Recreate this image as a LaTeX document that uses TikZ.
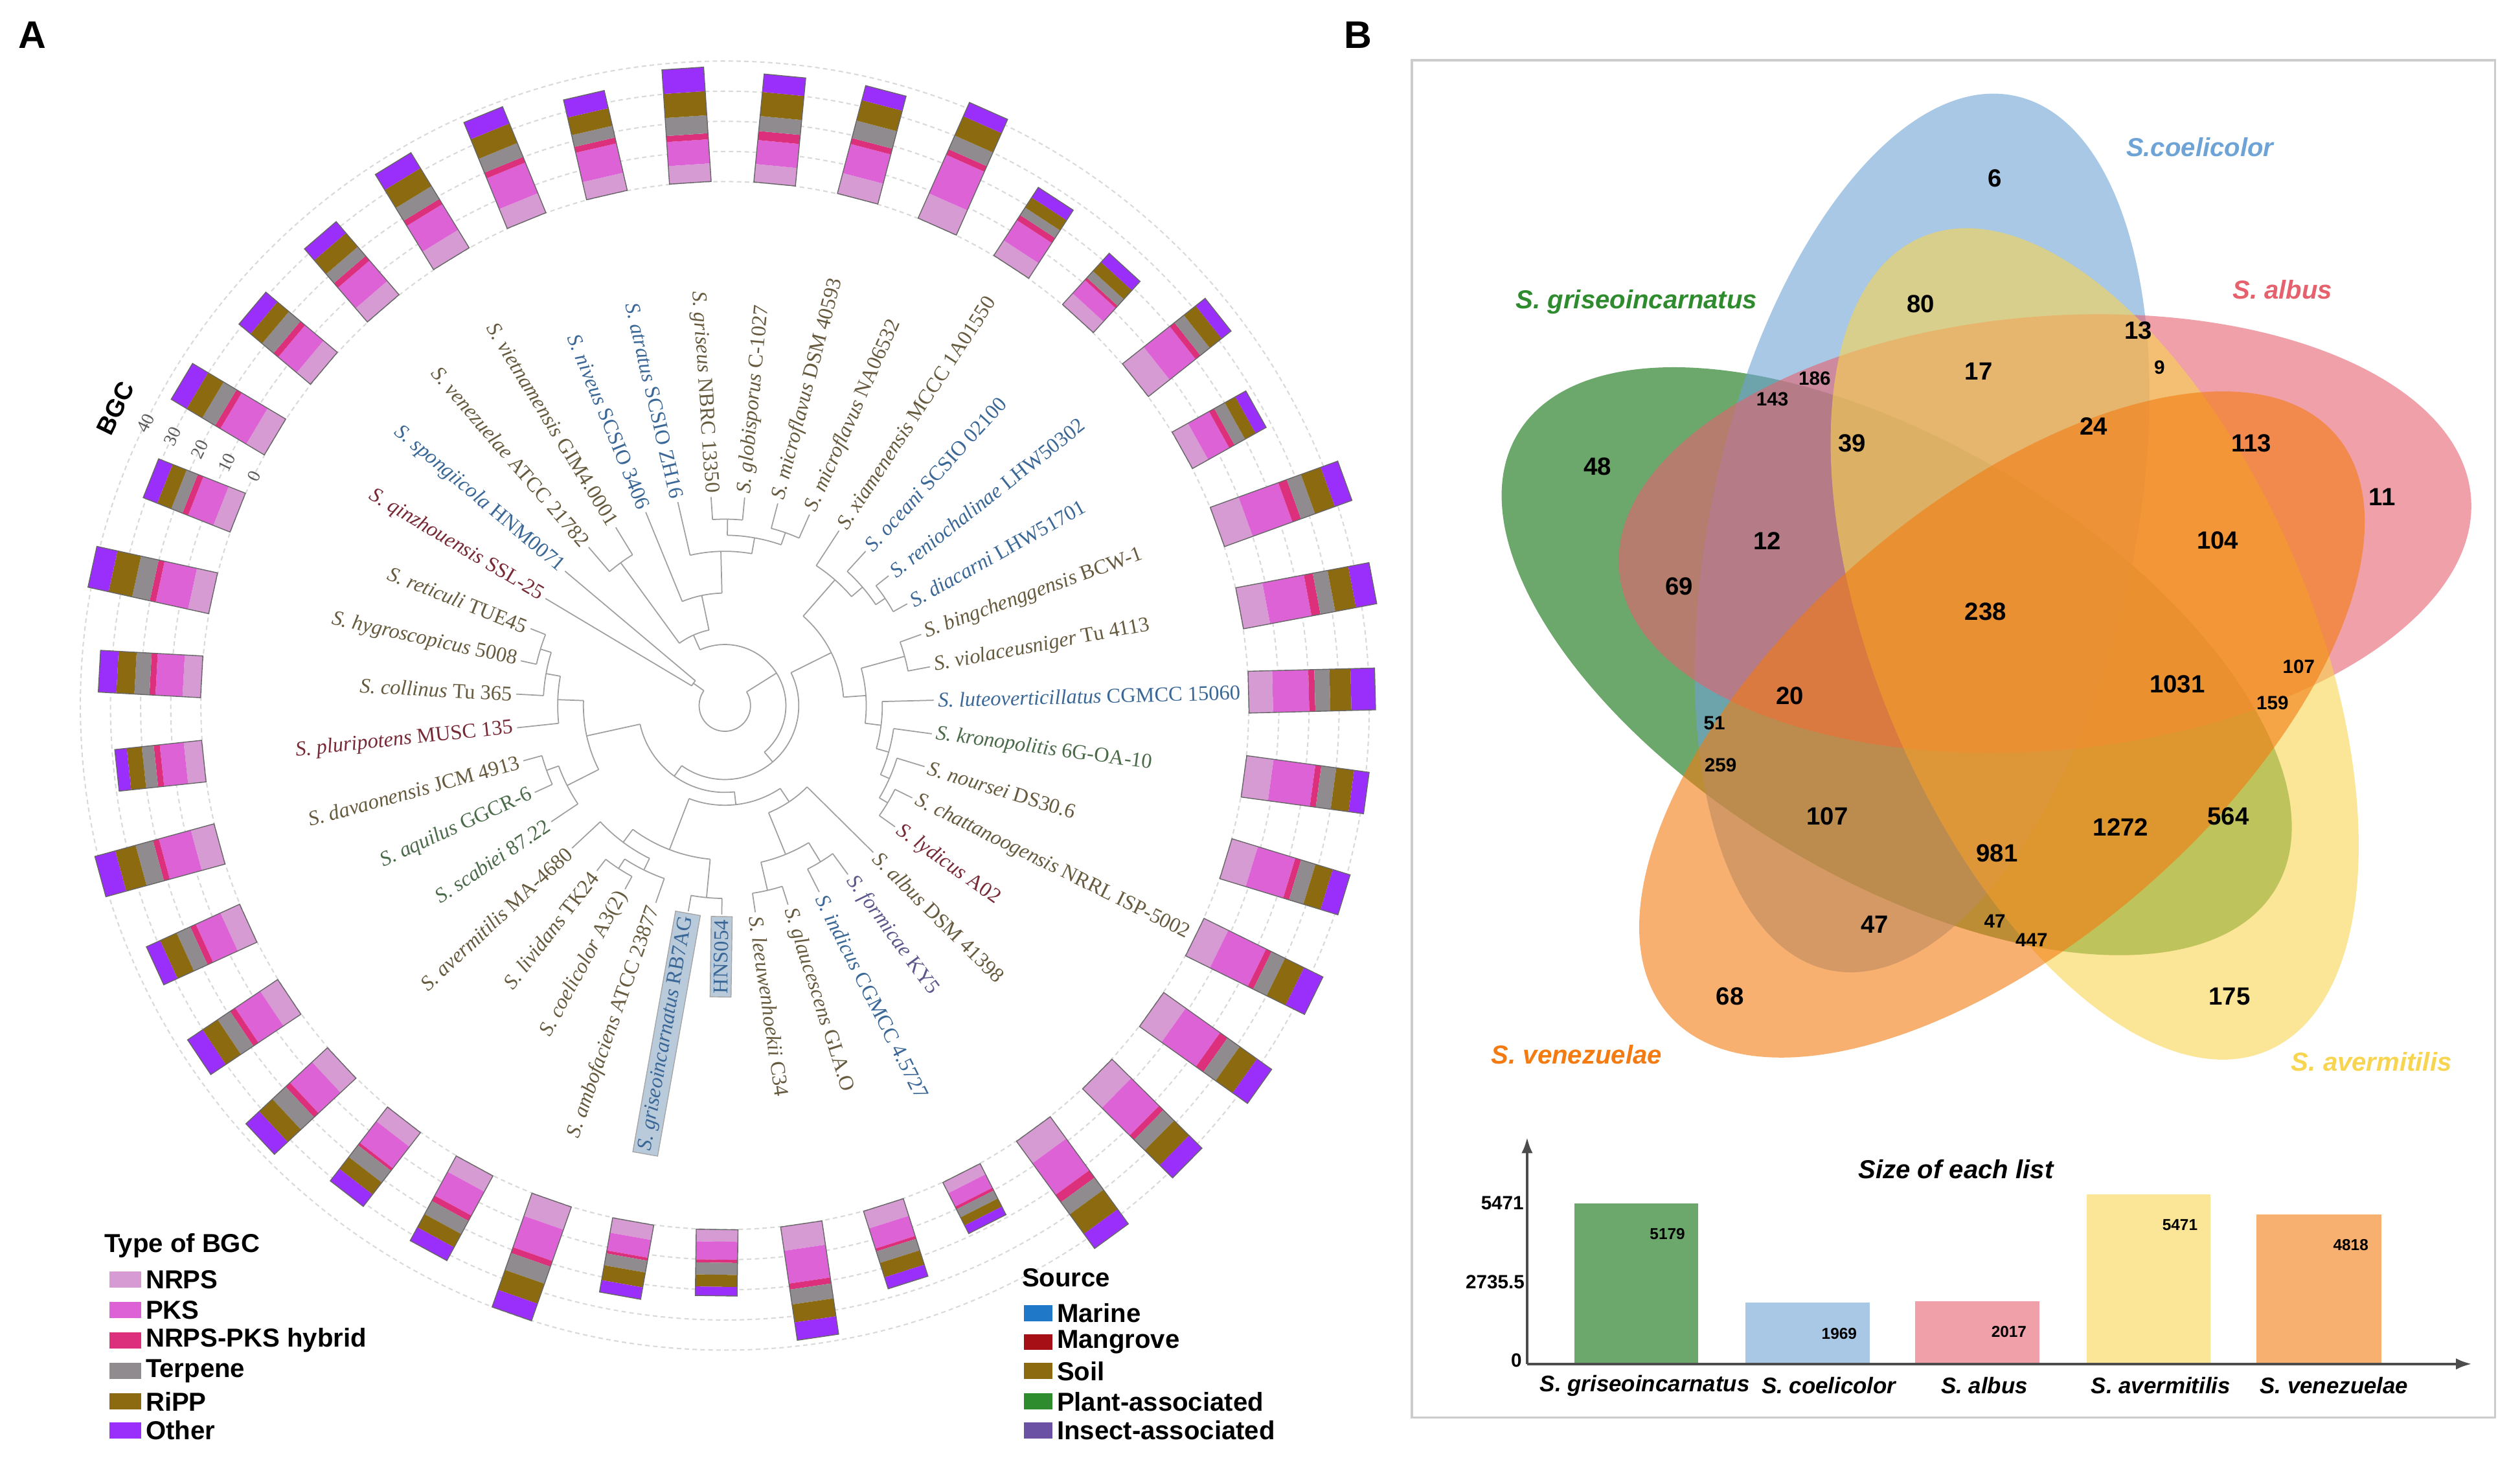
\documentclass[tikz,border=0pt]{standalone}
\usepackage{fontspec}
\setmainfont{Liberation Serif}
\setsansfont{Liberation Sans}
\usetikzlibrary{arrows.meta}

\definecolor{nrpsc}{HTML}{D69BD3}
\definecolor{pksc}{HTML}{DD62D6}
\definecolor{hybc}{HTML}{DC2F7C}
\definecolor{terpc}{HTML}{8F8B8F}
\definecolor{rippc}{HTML}{8C6A10}
\definecolor{otherc}{HTML}{9A2EFA}
\definecolor{marinec}{HTML}{1F78C8}
\definecolor{mangrovec}{HTML}{A50F15}
\definecolor{soilc}{HTML}{8C6A10}
\definecolor{plantc}{HTML}{2E8B2E}
\definecolor{insectc}{HTML}{6A51A3}
\definecolor{soiltxt}{HTML}{665A3E}
\definecolor{marinetxt}{HTML}{3A6796}
\definecolor{mangrovetxt}{HTML}{772A36}
\definecolor{planttxt}{HTML}{4A6A4A}
\definecolor{insecttxt}{HTML}{5A578A}
\definecolor{boxfill}{HTML}{B9CADB}
\definecolor{vgreen}{HTML}{0A6E0A}
\definecolor{vblue}{HTML}{6EA3D5}
\definecolor{vpink}{HTML}{E6616E}
\definecolor{vyellow}{HTML}{F7D550}
\definecolor{vorange}{HTML}{F37B11}

\newcommand{\spc}[2]{\textit{S. #1} #2}
\newcommand{\tarc}[3]{\draw[treeline] (#2:#1) arc[start angle=#2, end angle=#3, radius=#1];}
\newcommand{\tstem}[3]{\draw[treeline] (#1:#2) -- (#1:#3);}

\tikzset{
  treeline/.style={draw=gray!75, line width=0.5pt},
  gridline/.style={draw=gray!30, line width=0.6pt, dash pattern=on 2pt off 1.5pt},
  barframe/.style={draw=gray!80!black, line width=0.4pt},
  leaflab/.style={font=\fontsize{9.3}{10}\selectfont, inner sep=1pt},
  srcsoil/.style={text=soiltxt},
  srcmarine/.style={text=marinetxt},
  srcmangrove/.style={text=mangrovetxt},
  srcplant/.style={text=planttxt},
  srcinsect/.style={text=insecttxt},
  srcbox/.style={text=marinetxt, fill=boxfill, draw=gray!70, inner sep=1.5pt},
  axnum/.style={font=\fontsize{8}{9}\selectfont, text=gray!70!black},
  bgclab/.style={font=\sffamily\bfseries\fontsize{11}{12}\selectfont},
  legtitle/.style={font=\sffamily\bfseries\fontsize{11.5}{13}\selectfont},
  legtext/.style={font=\sffamily\bfseries\fontsize{11.5}{13}\selectfont, inner sep=1pt},
  vnum/.style={font=\sffamily\bfseries\fontsize{11}{12}\selectfont},
  vsmall/.style={font=\sffamily\bfseries\fontsize{8.5}{10}\selectfont},
  setlab/.style={font=\sffamily\bfseries\itshape\fontsize{11.5}{13}\selectfont},
  charttitle/.style={font=\sffamily\bfseries\itshape\fontsize{11.5}{13}\selectfont},
  chartlab/.style={font=\sffamily\bfseries\itshape\fontsize{10}{12}\selectfont},
  chartnum/.style={font=\sffamily\bfseries\fontsize{7}{8}\selectfont},
  axlab/.style={font=\sffamily\bfseries\fontsize{8.5}{10}\selectfont},
  axisline/.style={draw=gray!60!black, line width=1.2pt},
  panel/.style={font=\sffamily\bfseries\fontsize{17}{18}\selectfont},
}

\begin{document}
\begin{tikzpicture}[x=0.25mm,y=0.25mm]
\useasboundingbox (0,0) rectangle (1568,907);

\node[panel] (pa) at (20,885) {A};
\node[panel] (pb) at (845,885) {B};

% ring of BGC bars
\begin{scope}[shift={(451,468)}]
  \foreach \rr in {326,344.75,363.5,382.25,401}
    \draw[gridline] (0,0) circle[radius=\rr];
  \foreach \idx/\va/\vb/\vc/\vd/\ve/\vf in {
      0/6/9/2/4/6/5, 1/7/10/2/5/7/6, 2/7/11/2/5/7/6, 3/6/10/2/4/6/6,
      4/6/8/2/6/8/8, 5/6/8/3/5/8/6, 6/7/10/2/6/7/5, 7/9/14/2/5/7/5,
      8/6/8/2/3/4/4, 9/5/6/1/3/4/4, 10/9/11/2/4/5/4, 11/6/8/2/4/4/4,
      12/10/14/3/5/7/6, 13/9/14/3/5/7/7, 14/8/12/2/5/7/8, 15/9/14/2/5/6/5,
      16/9/13/2/5/6/6, 17/9/14/2/5/7/7, 18/9/14/3/5/7/6, 19/9/13/2/5/7/6,
      20/9/13/3/5/8/6, 21/4/5/1/3/3/3, 22/6/7/1/4/5/4, 23/8/11/2/5/6/6,
      24/4/6/1/4/4/3, 25/5/6/1/4/5/4, 26/8/11/2/6/7/6, 27/6/9/2/5/5/5,
      28/6/9/1/5/5/5, 29/7/10/2/6/6/6, 30/7/10/2/5/6/6, 31/7/9/2/5/6/5,
      32/8/11/2/6/7/7, 33/6/8/2/4/5/4, 34/6/9/2/5/6/6, 35/7/11/2/6/8/7,
      36/6/9/2/4/5/5, 37/7/10/2/5/6/6, 38/6/8/2/5/5/5}{
    \pgfmathsetmacro\ang{130.7-9.2308*\idx}
    \pgfmathsetmacro\ra{326+1.875*\va}
    \pgfmathsetmacro\rb{\ra+1.875*\vb}
    \pgfmathsetmacro\rc{\rb+1.875*\vc}
    \pgfmathsetmacro\rd{\rc+1.875*\vd}
    \pgfmathsetmacro\re{\rd+1.875*\ve}
    \pgfmathsetmacro\rf{\re+1.875*\vf}
    \begin{scope}[rotate=\ang]
      \fill[nrpsc] (326,-13) rectangle (\ra,13);
      \fill[pksc] (\ra,-13) rectangle (\rb,13);
      \fill[hybc] (\rb,-13) rectangle (\rc,13);
      \fill[terpc] (\rc,-13) rectangle (\rd,13);
      \fill[rippc] (\rd,-13) rectangle (\re,13);
      \fill[otherc] (\re,-13) rectangle (\rf,13);
      \draw[barframe] (326,-13) rectangle (\rf,13);
    \end{scope}
  }
  \foreach \v in {0,10,20,30,40}
    \node[axnum,rotate=64] (ax\v) at (154:{326+1.875*\v}) {\v};
  \node[bgclab,rotate=64] (bgc) at (154:422) {BGC};
\end{scope}

% tree
\begin{scope}[shift={(451,468)},rotate=-3.53]
  \foreach \r/\a/\b in {110/134.23/125.00, 116/97.31/88.08, 114/78.85/69.62,
      106/92.69/74.23, 96/106.54/83.46, 70/115.77/95.0, 48/129.62/105.38,
      120/41.92/32.69, 113/51.15/37.31, 104/60.38/44.23, 116/23.46/14.23,
      118/-22.69/-31.92, 112/-13.46/-27.31, 106/-4.23/-20.38, 98/5.00/-12.31,
      88/18.85/-3.65, 74/52.31/7.6, 114/-50.38/-59.62, 118/-68.85/-78.08,
      100/-55.0/-73.46, 72/-41.15/-64.23, 120/-87.31/-96.54, 121/-115.0/-124.23,
      114/-105.77/-119.6, 106/-112.7/-133.46, 96/-91.92/-123.1, 62/-52.69/-107.5,
      118/-151.92/-161.15, 110/-142.69/-156.5, 120/-188.85/-198.08,
      113/-179.62/-193.5, 104/-170.38/-186.6, 88/-149.6/-178.5, 54/-80.1/-164.1,
      46/29.96/-122.1, 38/117.5/-46.1, 24/-207.31/-216.54, 16/35.7/-211.9}
    {\tarc{\r}{\a}{\b}}
  \foreach \a/\r/\s in {134.23/110/130, 125.00/110/130, 97.31/116/130, 88.08/116/130,
      78.85/114/130, 69.62/114/130, 92.69/106/116, 74.23/106/114, 106.54/96/130,
      83.46/96/106, 115.77/70/130, 95.0/70/96, 129.62/48/110, 105.38/48/70,
      41.92/120/130, 32.69/120/130, 51.15/113/130, 37.31/113/120, 60.38/104/130,
      44.23/104/113, 23.46/116/130, 14.23/116/130, -22.69/118/130, -31.92/118/130,
      -13.46/112/130, -27.31/112/118, -4.23/106/130, -20.38/106/112, 5.00/98/130,
      -12.31/98/106, 18.85/88/116, -3.65/88/98, 52.31/74/104, 7.6/74/88,
      -50.38/114/130, -59.62/114/130, -68.85/118/130, -78.08/118/130,
      -55.0/100/114, -73.46/100/118, -41.15/72/130, -64.23/72/100,
      -87.31/120/130, -96.54/120/130, -115.0/121/130, -124.23/121/130,
      -105.77/114/130, -119.6/114/121, -112.7/106/114, -133.46/106/130,
      -91.92/96/120, -123.1/96/106, -52.69/62/72, -107.5/62/96,
      -151.92/118/130, -161.15/118/130, -142.69/110/130, -156.5/110/118,
      -188.85/120/130, -198.08/120/130, -179.62/113/130, -193.5/113/120,
      -170.38/104/130, -186.6/104/113, -149.6/88/110, -178.5/88/104,
      -80.1/54/62, -164.1/54/88, 29.96/46/74, -122.1/46/54, 117.5/38/48,
      -46.1/38/46, -207.31/24/130, -216.54/24/130, 35.7/16/38, -211.9/16/24}
    {\tstem{\a}{\r}{\s}}
\end{scope}

% leaf labels
\begin{scope}[shift={(451,468)}]
  \foreach \idx/\leaftext/\sty in {
      0/{\spc{venezuelae}{ATCC 21782}}/srcsoil,
      1/{\spc{vietnamensis}{GIM4.0001}}/srcsoil,
      2/{\spc{niveus}{SCSIO 3406}}/srcmarine,
      3/{\spc{atratus}{SCSIO ZH16}}/srcmarine,
      4/{\spc{griseus}{NBRC 13350}}/srcsoil,
      5/{\spc{globisporus}{C-1027}}/srcsoil,
      6/{\spc{microflavus}{DSM 40593}}/srcsoil,
      7/{\spc{microflavus}{NA06532}}/srcsoil,
      8/{\spc{xiamenensis}{MCCC 1A01550}}/srcsoil,
      9/{\spc{oceani}{SCSIO 02100}}/srcmarine,
      10/{\spc{reniochalinae}{LHW50302}}/srcmarine,
      11/{\spc{diacarni}{LHW51701}}/srcmarine,
      12/{\spc{bingchenggensis}{BCW-1}}/srcsoil,
      13/{\spc{violaceusniger}{Tu 4113}}/srcsoil,
      14/{\spc{luteoverticillatus}{CGMCC 15060}}/srcmarine,
      15/{\spc{kronopolitis}{6G-OA-10}}/srcplant,
      16/{\spc{noursei}{DS30.6}}/srcsoil,
      17/{\spc{chattanoogensis}{NRRL ISP-5002}}/srcsoil,
      18/{\spc{lydicus}{A02}}/srcmangrove,
      19/{\spc{albus}{DSM 41398}}/srcsoil,
      20/{\spc{formicae}{KY5}}/srcinsect,
      21/{\spc{indicus}{CGMCC 4.5727}}/srcmarine,
      22/{\spc{glaucescens}{GLA.O}}/srcsoil,
      23/{\spc{leeuwenhoekii}{C34}}/srcsoil,
      24/{HNS054}/srcbox,
      25/{\spc{griseoincarnatus}{RB7AG}}/srcbox,
      26/{\spc{ambofaciens}{ATCC 23877}}/srcsoil,
      27/{\spc{coelicolor}{A3(2)}}/srcsoil,
      28/{\spc{lividans}{TK24}}/srcsoil,
      29/{\spc{avermitilis}{MA-4680}}/srcsoil,
      30/{\spc{scabiei}{87.22}}/srcplant,
      31/{\spc{aquilus}{GGCR-6}}/srcplant,
      32/{\spc{davaonensis}{JCM 4913}}/srcsoil,
      33/{\spc{pluripotens}{MUSC 135}}/srcmangrove,
      34/{\spc{collinus}{Tu 365}}/srcsoil,
      35/{\spc{hygroscopicus}{5008}}/srcsoil,
      36/{\spc{reticuli}{TUE45}}/srcsoil,
      37/{\spc{qinzhouensis}{SSL-25}}/srcmangrove,
      38/{\spc{spongiicola}{HNM0071}}/srcmarine}{
    \pgfmathsetmacro\ang{130.7-9.2308*\idx}
    \pgfmathtruncatemacro\side{cos(\ang)>=0}
    \ifnum\side=1
      \node[leaflab,\sty,anchor=west,rotate=\ang] (lab\idx) at (\ang:131) {\leaftext};
    \else
      \pgfmathsetmacro\rot{\ang+180}
      \node[leaflab,\sty,anchor=east,rotate=\rot] (lab\idx) at (\ang:131) {\leaftext};
    \fi
  }
\end{scope}

% legends of panel A
\node[legtitle,anchor=west] (bgctitle) at (60,132) {Type of BGC};
\foreach \y/\c/\t in {111/nrpsc/NRPS, 92/pksc/PKS, 73/hybc/NRPS-PKS hybrid,
    54/terpc/Terpene, 35/rippc/RiPP, 17/otherc/Other} {
  \fill[\c] (68,\y-5) rectangle (88,\y+5);
  \node[legtext,anchor=west] (leg\c) at (89,\y) {\t};
}
\node[legtitle,anchor=west] (srctitle) at (631,112) {Source};
\foreach \y/\c/\t in {90/marinec/Marine, 72/mangrovec/Mangrove, 54/soilc/Soil,
    35/plantc/Plant-associated, 17/insectc/Insect-associated} {
  \fill[\c] (637,\y-5) rectangle (655,\y+5);
  \node[legtext,anchor=west] (leg\c) at (656,\y) {\t};
}

% panel B
\draw[gray!40, line width=1pt] (878.5,25) rectangle (1552.5,869.6);
\begin{scope}[shift={(1240,521)}]
  \fill[vgreen, fill opacity=0.6, shift={(203:65)}, rotate=149] (0,0) ellipse [x radius=275, y radius=135];
  \fill[vblue, fill opacity=0.6, shift={(129:70)}, rotate=78] (0,0) ellipse [x radius=278, y radius=132];
  \fill[vpink, fill opacity=0.6, shift={(59:63)}, rotate=5] (0,0) ellipse [x radius=266, y radius=135];
  \fill[vyellow, fill opacity=0.6, shift={(-13:65)}, rotate=-67] (0,0) ellipse [x radius=275, y radius=135];
  \fill[vorange, fill opacity=0.6, shift={(-85:65)}, rotate=-139] (0,0) ellipse [x radius=275, y radius=135];
\end{scope}
\node[setlab, text=vblue] (setb) at (1368.8,815.5) {S.coelicolor};
\node[setlab, text=plantc] (setg) at (1018.3,719.2) {S. griseoincarnatus};
\node[setlab, text=vpink] (setp) at (1420.2,726.7) {S. albus};
\node[setlab, text=vorange] (seto) at (981,251) {S. venezuelae};
\node[setlab, text=vyellow] (sety) at (1475.6,246.6) {S. avermitilis};
\foreach \x/\y/\v [count=\c] in {1241.2/796.2/6, 1195.1/717.9/80, 1330.5/701.2/13,
    1231.1/676.1/17, 1302.8/641.8/24, 1152.4/631.3/39, 1400.9/631.3/113,
    994.1/616.8/48, 1482.2/597.9/11, 1099.7/570.6/12, 1379.8/570.6/104,
    1044.7/542/69, 1235.5/526.6/238, 1354.7/481.4/1031, 1113.7/473.9/20,
    1137/399.1/107, 1386.4/399.1/564, 1319.5/392.5/1272, 1242.6/376.3/981,
    1166.5/331.9/47, 1076.4/287/68, 1387.2/287/175}
  \node[vnum] (vn\c) at (\x,\y) {\v};
\foreach \x/\y/\v [count=\c] in {1343.7/678.3/9, 1129.1/671.7/186, 1102.8/658.6/143,
    1430.3/492.4/107, 1414/469.5/159, 1066.7/457.2/51, 1070.6/430.8/259,
    1241.2/334/47, 1264.1/322.2/447}
  \node[vsmall] (vs\c) at (\x,\y) {\v};

% bar chart
\foreach \xa/\xb/\v/\c/\xl/\nm [count=\k] in {
    979.6/1056.5/5179/vgreen/1023.5/{S. griseoincarnatus},
    1086/1163.4/1969/vblue/1137.9/{S. coelicolor},
    1191.6/1269/2017/vpink/1234.7/{S. albus},
    1298.4/1375.4/5471/vyellow/1344.5/{S. avermitilis},
    1404/1481.7/4818/vorange/1452.3/{S. venezuelae}} {
  \pgfmathsetmacro\top{58.4+\v/5471*105.6}
  \fill[\c, fill opacity=0.6] (\xa,58.4) rectangle (\xb,\top);
  \node[chartnum] (bv\k) at (\xb-19,\top-19) {\v};
  \node[chartlab] (bl\k) at (\xl,45) {\nm};
}
\draw[axisline,-{Latex[length=7pt,width=5pt]}] (950.2,58.4) -- (950.2,199.4);
\draw[axisline,-{Latex[length=7pt,width=5pt]}] (950.2,58.4) -- (1538,58.4);
\node[axlab] (ya) at (934.8,158.3) {5471};
\node[axlab] (yb) at (930.3,109.4) {2735.5};
\node[axlab] (yc) at (943.5,60.5) {0};
\node[charttitle] (ctitle) at (1217,179.6) {Size of each list};
\end{tikzpicture}
\end{document}
